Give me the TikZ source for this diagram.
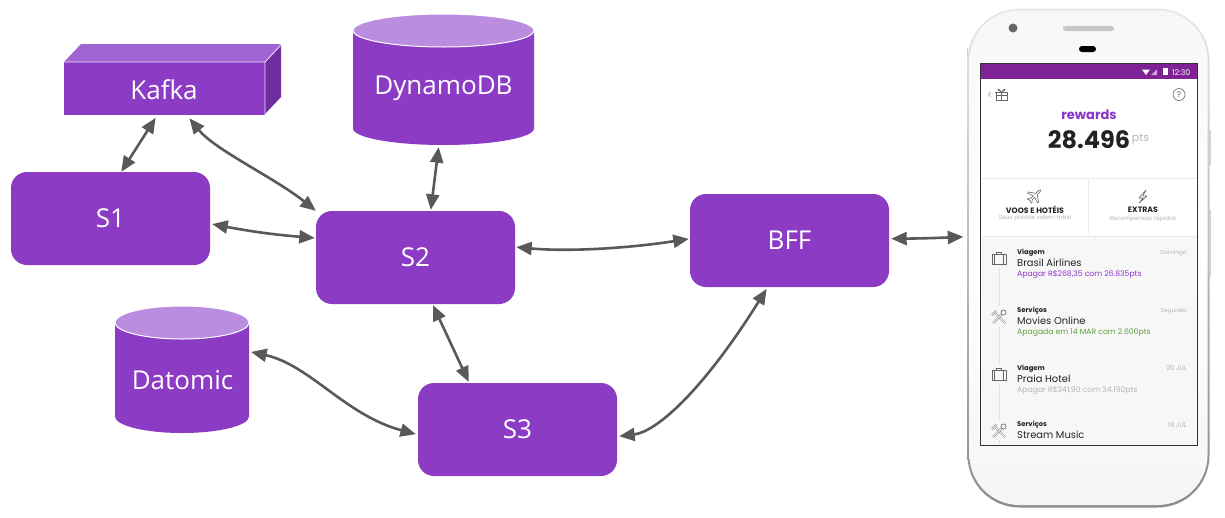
\documentclass[tikz,border=0pt]{standalone}
\usepackage{fontspec}
\setmainfont{Open Sans}
\newfontfamily\ph{Poppins}
\usetikzlibrary{arrows.meta,calc}
\definecolor{box}{HTML}{8C3CC4}
\definecolor{boxlight}{HTML}{A264D2}
\definecolor{boxdark}{HTML}{6F2D9F}
\definecolor{cyltop}{HTML}{BA8DE0}
\definecolor{link}{HTML}{595959}
\definecolor{bar}{HTML}{7F2296}
\definecolor{rew}{HTML}{8A35C9}
\definecolor{grn}{HTML}{5FA03A}
\definecolor{ink}{HTML}{222222}
\definecolor{mut}{HTML}{B4B4B4}
\tikzset{
  service/.style={rectangle,rounded corners=16pt,fill=box,text=white,minimum width=199pt,minimum height=93pt,inner sep=0pt,font=\fontsize{26}{28}\selectfont},
  label/.style={rectangle,text=white,inner sep=0pt,font=\fontsize{26}{28}\selectfont},
  flow/.style={{Triangle[length=15.5pt,width=13pt]}-{Triangle[length=15.5pt,width=13pt]},draw=link,line width=2.6pt},
  ptext/.style={inner sep=0pt,anchor=base west,font=\ph},
  icon/.style={draw=black!60,line width=.6pt,fill=none,line join=round},
  tube/.style={draw=black!60,line width=.5pt,double=black!3,double distance=1.1pt}
}
\newcommand{\cyl}[5]{% x0 x1 top-y ry bottom
  \path[fill=box] (#1,#3) -- (#1,#5) arc[x radius={(#2-#1)/2},y radius=#4,start angle=180,end angle=0] -- (#2,#3) -- cycle;
  \path[fill=cyltop,draw=white,line width=1pt] ({(#1+#2)/2},#3) ellipse[x radius={(#2-#1)/2},y radius=#4];
}
\newcommand{\brief}[2]{\begin{scope}[shift={(#1,#2)}]
  \draw[icon] (-7,-5) rectangle (7,5);\draw[icon] (-4.5,-5)--(-4.5,5) (4.5,-5)--(4.5,5);\draw[icon] (-2.5,-5)--(-2.5,-6.5)--(2.5,-6.5)--(2.5,-5);\end{scope}}
\newcommand{\tools}[2]{\begin{scope}[shift={(#1,#2)}]
  \draw[tube] (-3,-3)--(6,6);
  \draw[tube] (-7,-2)--(-2.5,-6);
  \draw[tube] (3,-3)--(-6,6);
  \draw[icon,fill=black!3] (4.5,-4.5) circle[radius=2.6];\end{scope}}
\begin{document}
\begin{tikzpicture}[x=1pt,y=-1pt]
\useasboundingbox (0,0) rectangle (1225,517);
\fill[white] (0,0) rectangle (1225,517);
% Kafka
\path[fill=boxlight] (64,62) -- (81,44) -- (281,44) -- (265,62) -- cycle;
\path[fill=boxdark] (265,62) -- (281,45) -- (281,97) -- (265,114) -- cycle;
\node[rectangle,fill=box,minimum width=201pt,minimum height=53pt,inner sep=0pt] (kafka) at (164.5,88.5) {};
\node[label] (kafkatxt) at (164,89.5) {Kafka};
\draw[white!85!box,line width=.8pt] (64,62) -- (265,62) -- (265,115) (265,62) -- (281,45);
% Cylinders
\cyl{353}{534}{30.5}{16.5}{128.5}
\node[label,minimum width=181pt,minimum height=131pt] (dynamo) at (443.5,79.5) {};
\node[label] (dynamotxt) at (443.5,88.5) {DynamoDB};
\cyl{115}{249}{322.5}{16.5}{416.5}
\node[label,minimum width=134pt,minimum height=127pt] (datomic) at (182,369.5) {};
\node[label] (datomictxt) at (182.5,380) {Datomic};
% Services
\node[service] (s1) at (110.5,218.5) {S1};
\node[service] (s2) at (415.5,257.5) {S2};
\node[service] (s3) at (517.5,429.5) {S3};
\node[service] (bff) at (789.5,240.5) {BFF};
% Phone
\shade[top color=black!9,bottom color=black!45,rounded corners=52pt] (967.5,8.5) rectangle (1209.5,507.5);
\shade[top color=black!3,bottom color=black!4,middle color=white,rounded corners=50pt] (969.5,10.5) rectangle (1207.5,505);
\node[rectangle,minimum width=242pt,minimum height=499pt,inner sep=0pt] (phone) at (1088.5,258) {};
\fill[black!18] (1209,130) rectangle (1210.5,165);
\fill[black!18] (1209,210) rectangle (1210.5,277);
\fill[black!18] (967,48) rectangle (968,56);
\fill[black!60] (1013,28) circle[radius=4.5];
\fill[black!22,rounded corners=2.5pt] (1063,26) rectangle (1114,31);
\fill[black,rounded corners=3pt] (1079,46) rectangle (1096,52);
% Screen
\fill[black!80] (979.5,62.5) rectangle (1197.5,445.5);
\fill[white] (981,64) rectangle (1196.5,236);
\fill[black!3] (981,236) rectangle (1196.5,444.5);
\fill[bar] (981,64) rectangle (1196.5,79);
\draw[black!8,line width=.7pt] (981,178) -- (1196.5,178) (981,236) -- (1196.5,236) (1088.5,178) -- (1088.5,234);
\node[ptext,text=white,font=\ph\fontsize{7.8}{8}\selectfont] (clock) at (1172,75) {12:30};
\fill[white] (1142,69.5) -- (1150,69.5) -- (1146,75) -- cycle;
\fill[white!60!bar] (1151,75) -- (1157,69.5) -- (1157,75) -- cycle;
\fill[white] (1163,68) rectangle (1167.5,75);
% Header
\draw[black!40,line width=.6pt] (990.5,92) -- (988.5,94.5) -- (990.5,97);
\draw[icon] (996,92) rectangle (1007,100) (995,92) -- (1008,92) (1001.5,92) -- (1001.5,100) (996,95) -- (1007,95);
\draw[icon] (1001.5,92) .. controls (998,87) and (995,89) .. (1001.5,92) .. controls (1008,89) and (1005,87) .. (1001.5,92);
\draw[icon] (1179,94.5) circle[radius=6];
\node[inner sep=0pt,text=black!65,font=\ph\fontsize{8}{9}\selectfont] (q) at (1179,94.5) {?};
\node[inner sep=0pt,text=rew,font=\ph\bfseries\fontsize{13}{15}\selectfont] (rewards) at (1089,115) {rewards};
\node[inner sep=0pt,text=ink,font=\ph\bfseries\fontsize{24}{26}\selectfont] (pts) at (1089,140) {28.496};
\node[inner sep=0pt,text=mut,font=\ph\fontsize{11}{12}\selectfont] (ptsu) at (1140.5,139.5) {pts};
% Cards
\draw[icon,shift={(1035,195.5)},rotate=-45] (0,-8) -- (1,-6) -- (1,-2) -- (7,2) -- (7,3.5) -- (1,1.5) -- (1,5) -- (3,7) -- (3,8) -- (0,7) -- (-3,8) -- (-3,7) -- (-1,5) -- (-1,1.5) -- (-7,3.5) -- (-7,2) -- (-1,-2) -- (-1,-6) -- cycle;
\draw[icon] (1146,190) -- (1139,198) -- (1143,198) -- (1139,203) -- (1147,196) -- (1143,196) -- cycle;
\node[inner sep=0pt,text=ink,font=\ph\bfseries\fontsize{7.8}{8}\selectfont] (voos) at (1035,209.5) {VOOS E HOTÉIS};
\node[inner sep=0pt,text=mut,font=\ph\fontsize{5.9}{7}\selectfont] (voos2) at (1035,218.5) {Seus pontos valem mais};
\node[inner sep=0pt,text=ink,font=\ph\bfseries\fontsize{7.8}{8}\selectfont] (extras) at (1143,209.5) {EXTRAS};
\node[inner sep=0pt,text=mut,font=\ph\fontsize{5.9}{7}\selectfont] (extras2) at (1143,218.5) {Recompensas rápidas};
% Timeline
\draw[black!12,line width=.6pt] (999,268) -- (999,306) (999,326) -- (999,365) (999,385) -- (999,421) (999,440) -- (999,444);
\brief{999}{259}\tools{999}{317}\brief{999}{375}\tools{999}{431}
\tikzset{a/.style={ptext,text=ink,font=\ph\bfseries\fontsize{6.8}{8}\selectfont},
 b/.style={ptext,text=ink,font=\ph\fontsize{9.9}{11}\selectfont},
 c/.style={ptext,font=\ph\fontsize{7.7}{8}\selectfont},
 d/.style={inner sep=0pt,anchor=base east,text=mut,font=\ph\fontsize{5.8}{7}\selectfont},
 e/.style={d,font=\ph\fontsize{6.6}{7}\selectfont}}
\node[a] (r1a) at (1017,254) {Viagem};
\node[b] (r1b) at (1017,266) {Brasil Airlines};
\node[c,text=rew] (r1c) at (1017,276) {Apagar R\$268,35 com 26.835pts};
\node[d] (r1d) at (1187,254) {Domingo};
\node[a] (r2a) at (1017,312) {Serviços};
\node[b] (r2b) at (1017,324) {Movies Online};
\node[c,text=grn] (r2c) at (1017,334) {Apagada em 14 MAR com 2.600pts};
\node[d] (r2d) at (1187,312.5) {Segunda};
\node[a] (r3a) at (1017,370) {Viagem};
\node[b] (r3b) at (1017,382) {Praia Hotel};
\node[c,text=mut] (r3c) at (1017,392) {Apagar R\$341,90 com 34.190pts};
\node[e] (r3d) at (1187,370) {20 JUL};
\node[a] (r4a) at (1017,426.5) {Serviços};
\node[b] (r4b) at (1017,438) {Stream Music};
\node[e] (r4d) at (1187,427) {18 JUL};
% Connectors
\draw[flow,shorten <=3pt] (kafka.255.8) -- (s1.77.3);
\draw[flow,shorten <=4pt] (kafka.310.3) .. controls (215,150) and (275,178) .. (s2.north west);
\draw[flow,shorten <=2pt,shorten >=1pt] (s1.357.4) to[bend right=3] (s2.169.5);
\draw[flow,shorten <=2pt,shorten >=1pt] (dynamo.266) -- (s2.72.7);
\draw[flow,shorten <=1pt,shorten >=1pt] (s2.6) .. controls (570,252) and (630,248) .. (bff.179);
\draw[flow,shorten <=2pt,shorten >=4pt] (bff.1.4) to[bend right=1] (phone.170);
\draw[flow,shorten <=1pt,shorten >=1pt] (s2.290.6) -- (s3.136.2);
\draw[flow,shorten <=2pt,shorten >=2pt] (datomic.15.4) .. controls (310,365) and (345,415) .. (s3.183.2);
\draw[flow,shorten <=2pt,shorten >=2pt] (s3.356.3) .. controls (655,432) and (700,395) .. (bff.245.2);
\end{tikzpicture}
\end{document}
